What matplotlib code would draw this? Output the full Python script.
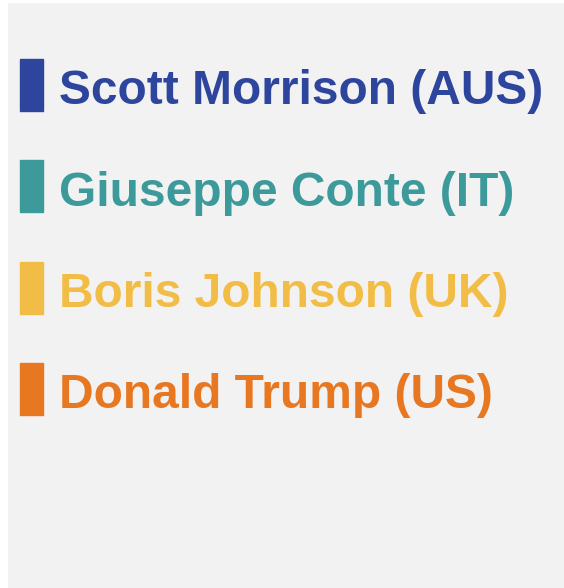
import matplotlib
matplotlib.use("Agg")
import matplotlib.pyplot as plt
from matplotlib.patches import Rectangle

leaders = ["Scott Morrison (AUS)", "Giuseppe Conte (IT)", "Boris Johnson (UK)", "Donald Trump (US)"]
colors = ["#2e459e", "#3d9a9a", "#f2bd46", "#e87722"]

W, H = 564, 588
fig = plt.figure(figsize=(W / 100, H / 100), dpi=100)
fig.patch.set_facecolor("white")

# grey panel, in pixel units (y goes down)
ax = fig.add_axes([8 / W, 0, (W - 8) / W, (H - 3) / H])
ax.set_facecolor("#f2f2f2")
ax.set_xlim(0, W - 8)
ax.set_ylim(H - 3, 0)
ax.axis("off")
ax.add_patch(Rectangle((0, 0), W - 8, H - 3, color="#f2f2f2", zorder=0))

top0, step = 56, 101.3
for i, (name, col) in enumerate(zip(leaders, colors)):
    top = top0 + i * step
    ax.add_patch(Rectangle((12, top), 23, 52, color=col, zorder=2))
    ax.text(51, top + 45.5, name, color=col, fontsize=34.5, fontweight="bold",
            family="Liberation Sans", va="baseline", ha="left")

fig.savefig("out.png", dpi=100)
